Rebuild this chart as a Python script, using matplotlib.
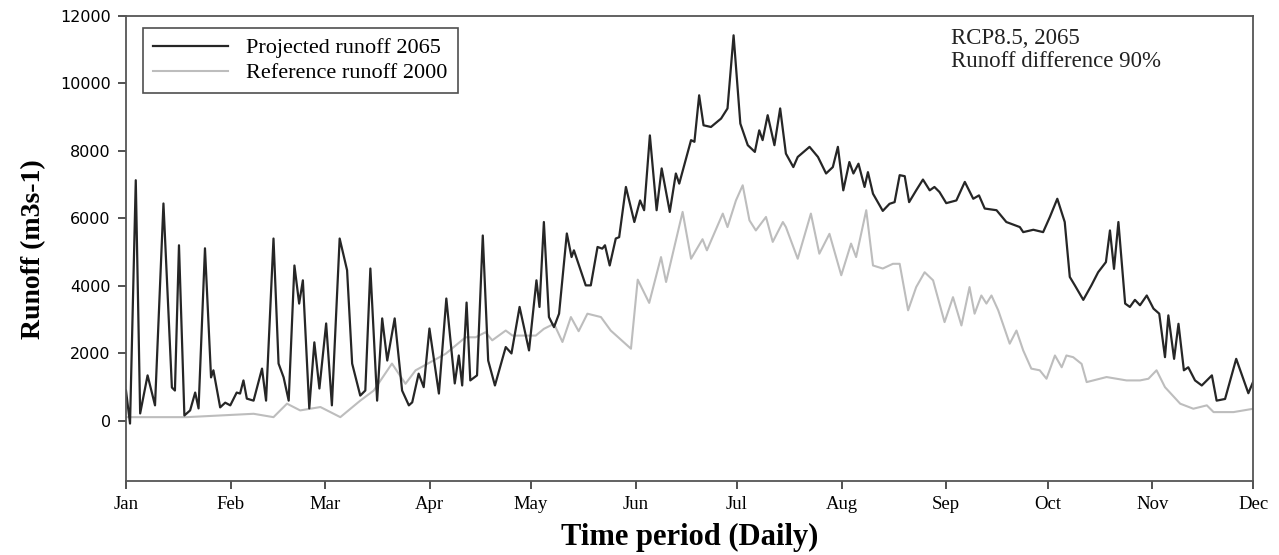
import matplotlib
matplotlib.use('Agg')
import matplotlib.pyplot as plt

# day of year (0 = 1 Jan) and runoff (m3/s)
proj_day = [0, 1.2, 2.9, 4.2, 6.4, 8.6, 11.1, 13.6, 14.5, 15.7, 17.3, 19, 20.5, 21.5, 23.4, 25.2, 25.9, 27.9,
            29.4, 30.9, 32.8, 33.8, 34.8, 35.8, 37.8, 40.3, 41.5, 43.7, 45.2, 46.7, 48.2, 49.9, 51.3, 52.4,
            54.3, 55.8, 57.3, 59.3, 61, 63.3, 65.5, 67, 69.4, 70.9, 72.4, 74.4, 75.9, 77.4, 79.6, 81.8, 83.8,
            84.8, 86.7, 88.2, 89.9, 92.7, 94.9, 97.4, 98.6, 99.6, 100.9, 102, 104, 105.7, 107.3, 109.3, 112.5,
            114.2, 116.6, 119.4, 121.6, 122.5, 123.8, 125.3, 126.8, 128.3, 130.6, 132, 132.7, 136.2, 137.7,
            139.7, 141.1, 141.9, 143.3, 145.1, 146.1, 148.1, 150.6, 152.3, 153.5, 155.2, 157.2, 158.7, 161.1,
            162.9, 163.9, 167.4, 168.4, 169.8, 171.1, 173.3, 176.3, 178.2, 180, 182, 184.2, 186.3, 187.6,
            188.6, 190.1, 192.1, 193.8, 195.5, 197.7, 199, 202.5, 205, 207.4, 209.4, 210.9, 212.5, 214.3,
            215.5, 217, 218.8, 219.8, 221.3, 224.2, 226.2, 227.7, 229.2, 230.7, 232, 234.1, 236.1, 238.1,
            239.5, 241, 243, 246, 248.5, 251, 252.7, 254.4, 257.9, 260.8, 264.8, 265.8, 268.8, 271.7, 273.7,
            275.9, 278.1, 279.6, 281.1, 283.6, 286, 288, 290.3, 291.5, 292.7, 294, 296, 297.4, 298.9, 300.4,
            302.4, 304.4, 306.1, 307.8, 308.8, 310.5, 311.8, 313.4, 314.7, 316.7, 318.7, 321.7, 323.1, 325.6,
            328.9, 332.5, 334]
proj_val = [890, -90, 7130, 210, 1340, 450, 6440, 980, 890, 5200, 150, 300, 830, 360, 5110, 1280, 1490, 390,
            530, 450, 830, 800, 1190, 650, 590, 1540, 590, 5400, 1690, 1280, 590, 4600, 3470, 4160,
            360, 2320, 950, 2880, 450, 5400, 4460, 1690, 740, 890, 4510, 590, 3030, 1780, 3030, 890, 450,
            540, 1390, 990, 2730, 800, 3620, 1100, 1930, 1040, 3500, 1190, 1340, 5490, 1780, 1040, 2180,
            1990, 3370, 2080, 4160, 3370, 5890, 3070, 2770, 3170, 5550, 4850, 5050, 4010, 4010,
            5150, 5100, 5200, 4600, 5400, 5440, 6930, 5890, 6530, 6240, 8460, 6240, 7480, 6190,
            7330, 7030, 8320, 8270, 9650, 8760, 8710, 8960, 9260, 11430, 8810, 8170, 7970, 8610,
            8320, 9060, 8170, 9260, 7920, 7520, 7820, 8120, 7820, 7330, 7520, 8120, 6830, 7670,
            7330, 7620, 6930, 7370, 6730, 6220, 6430, 6480, 7280, 7250, 6480, 6830, 7150, 6830,
            6930, 6780, 6450, 6530, 7080, 6580, 6680, 6290, 6240, 5890, 5740, 5590, 5660, 5590, 6040,
            6580, 5890, 4260, 4010, 3580, 4010, 4400, 4700, 5640, 4500, 5890, 3470, 3370, 3580, 3420,
            3710, 3320, 3170, 1880, 3120, 1830, 2870, 1490, 1580, 1190, 1040, 1340, 590, 640,
            1830, 810, 1170]

ref_day = [0, 4.2, 18, 37.8, 43.7, 47.7, 51.6, 57.6, 63.5, 69.4, 73.4, 78.8, 82.8, 85.8, 94.7, 100.6, 103.6,
           106.5, 108.5, 112.5, 114.5, 121.4, 123.8, 126.8, 129.3, 131.8, 134.1, 136.7, 140.7, 143.6, 149.6,
           151.6, 155, 158.5, 160, 164.9, 167.4, 170.8, 172.1, 176.8, 178.2, 180.7, 182.7, 184.7, 186.6,
           189.6, 191.6, 194.6, 195.5, 199, 202.9, 205.4, 208.4, 211.9, 214.8, 216.3, 219.3, 221.3, 224.2,
           227.2, 229.2, 231.7, 234.1, 236.6, 239.1, 242.5, 245, 247.5, 249.9, 251.4, 253.4, 254.9, 256.4,
           258.4, 261.8, 263.8, 265.8, 268.2, 270.7, 272.7, 275.2, 277.2, 278.6, 280.6, 283.1, 284.6, 290.5,
           296.4, 300.4, 302.9, 305.3, 307.8, 312.3, 316.2, 320.2, 322.2, 328.1, 334]
ref_val = [100, 100, 100, 200, 100, 500, 300, 400, 100, 590, 890, 1690, 1090, 1490, 1980, 2470, 2470,
           2620, 2380, 2670, 2520, 2520, 2720, 2870, 2330, 3070, 2650, 3170, 3070, 2670, 2130,
           4180, 3490, 4850, 4110, 6190, 4800, 5380, 5050, 6140, 5740, 6530, 6980, 5940, 5640,
           6040, 5300, 5890, 5740, 4800, 6140, 4950, 5540, 4310, 5250, 4850, 6240, 4600, 4510,
           4650, 4650, 3270, 3960, 4400, 4160, 2920, 3660, 2820, 3960, 3170, 3710, 3470, 3710,
           3270, 2280, 2670, 2080, 1540, 1490, 1240, 1930, 1580, 1930, 1880, 1680, 1140, 1290,
           1190, 1190, 1240, 1490, 990, 500, 350, 450, 250, 250, 350]

month_start = [0, 31, 59, 90, 120, 151, 181, 212, 243, 273, 304, 334]
month_names = ['Jan', 'Feb', 'Mar', 'Apr', 'May', 'Jun', 'Jul', 'Aug', 'Sep', 'Oct', 'Nov', 'Dec']

serif = 'Liberation Serif'

fig = plt.figure(figsize=(12.79, 5.55), dpi=100)
ax = fig.add_axes([0.0985, 0.133, 0.8815, 0.838])

ax.plot(ref_day, ref_val, color='#bdbdbd', lw=1.5, label='Reference runoff 2000')
ax.plot(proj_day, proj_val, color='#262626', lw=1.6, label='Projected runoff 2065')

ax.set_xlim(0, 334)
ax.set_ylim(-1800, 12000)
ax.set_xticks(month_start)
ax.set_xticklabels(month_names, family=serif, fontsize=13.5)
ax.set_yticks(range(0, 12001, 2000))
ax.set_yticklabels([str(v) for v in range(0, 12001, 2000)], family='DejaVu Sans', fontsize=11.5)
ax.tick_params(direction='out', length=6, width=1.2, color='#333333', pad=5)

for s in ax.spines.values():
    s.set_color('#555555')
    s.set_linewidth(1.3)

ax.set_ylabel('Runoff (m3s-1)', family=serif, fontweight='bold', fontsize=20, labelpad=10)
ax.set_xlabel('Time period (Daily)', family=serif, fontweight='bold', fontsize=22, labelpad=7)

# legend order: projected first
h, l = ax.get_legend_handles_labels()
leg = ax.legend(h[::-1], l[::-1], loc='upper left', bbox_to_anchor=(0.015, 0.975), borderaxespad=0,
                prop={'family': serif, 'size': 16}, frameon=True, fancybox=False,
                handlelength=3.4, borderpad=0.45, labelspacing=0.2)
leg.get_frame().set_edgecolor('#222222')
leg.get_frame().set_linewidth(1.2)

ax.text(0.732, 0.975, 'RCP8.5, 2065\nRunoff difference 90%', transform=ax.transAxes,
        ha='left', va='top', family=serif, fontsize=16.5, linespacing=1.15, color='#222222')

fig.savefig('out.png', dpi=100)
